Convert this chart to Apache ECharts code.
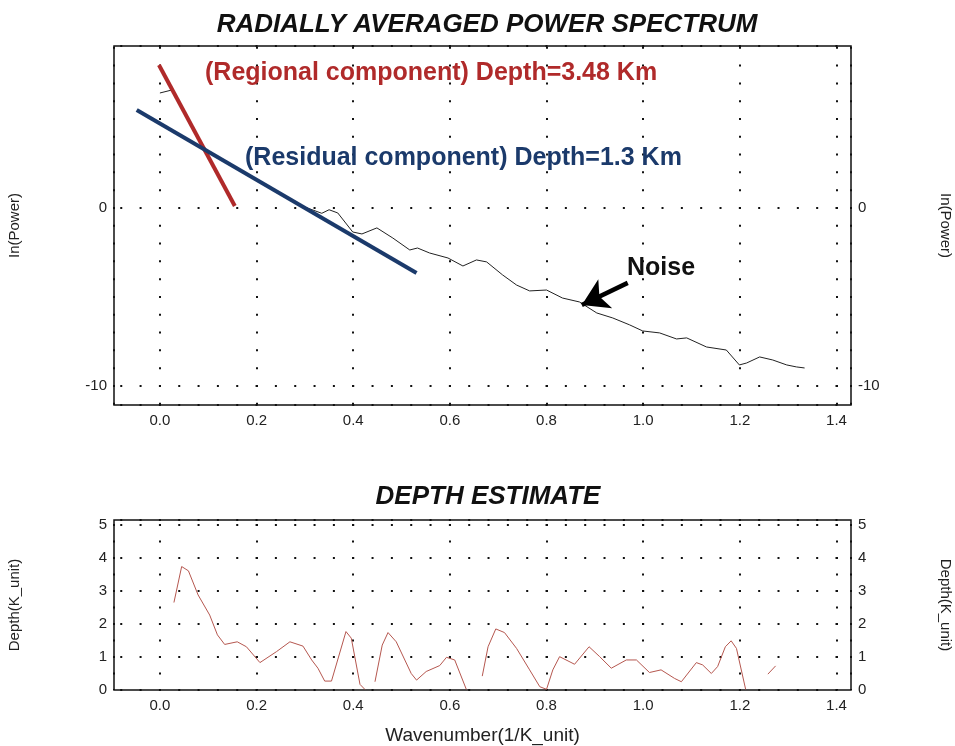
<!DOCTYPE html>
<html><head><meta charset="utf-8">
<script src="https://cdn.jsdelivr.net/npm/echarts@6/dist/echarts.min.js"></script>
<style>html,body{margin:0;padding:0;background:#fff}#c{width:955px;height:746px}</style>
</head><body><div id="c"></div>
<script>
// ---------- data ----------
const xTickValues = [0.0, 0.2, 0.4, 0.6, 0.8, 1.0, 1.2, 1.4];
const powerTickValues = [0, -10];
const depthTickValues = [0, 1, 2, 3, 4, 5];

const noiseX = [0.0, 0.025, 0.04, 0.06, 0.08, 0.10, 0.12, 0.15, 0.18, 0.21, 0.24, 0.27, 0.30,
  0.335, 0.35, 0.368, 0.399, 0.418, 0.449, 0.482, 0.517, 0.533, 0.558, 0.596, 0.627, 0.655, 0.676,
  0.709, 0.738, 0.765, 0.800, 0.833, 0.868, 0.904, 0.937, 0.972, 0.999, 1.034, 1.069, 1.090,
  1.131, 1.172, 1.199, 1.214, 1.241, 1.268, 1.297, 1.317, 1.334];
const noiseY = [6.46, 6.63, 5.85, 4.85, 3.85, 3.15, 2.85, 2.38, 1.9, 1.43, 0.96, 0.5, 0.05,
  -0.3, -0.1, -0.28, -1.35, -1.46, -1.12, -1.69, -2.36, -2.25, -2.53, -2.81, -3.26, -2.92, -3.03,
  -3.76, -4.33, -4.66, -4.61, -5.06, -5.28, -5.90, -6.18, -6.57, -6.91, -7.02, -7.36, -7.30,
  -7.81, -7.98, -8.82, -8.71, -8.37, -8.54, -8.82, -8.93, -8.99];

const regionalX = [-0.002, 0.155];
const regionalY = [8.03, 0.11];
const residualX = [-0.048, 0.531];
const residualY = [5.5, -3.65];

const noiseArrowX = [0.968, 0.873];
const noiseArrowY = [-4.21, -5.45];

const depthX = [0.029, 0.045, 0.059, 0.079, 0.103, 0.119, 0.134, 0.160, 0.179, 0.207, 0.241,
  0.269, 0.296, 0.314, 0.327, 0.341, 0.355, 0.385, 0.396, 0.414, 0.424, 0.434,
  0.445, 0.460, 0.472, 0.489, 0.520, 0.531, 0.551, 0.579, 0.593, 0.610, 0.634, 0.650,
  0.667, 0.679, 0.695, 0.713, 0.738, 0.765, 0.786, 0.800, 0.813, 0.827, 0.858, 0.888,
  0.910, 0.934, 0.965, 0.986, 1.013, 1.037, 1.065, 1.079, 1.110, 1.123, 1.141, 1.154,
  1.170, 1.182, 1.193, 1.212, 1.235, 1.258, 1.274];
const depthY = [2.65, 3.74, 3.61, 2.88, 2.27, 1.67, 1.38, 1.46, 1.31, 0.83, 1.16,
  1.46, 1.33, 0.91, 0.66, 0.27, 0.27, 1.77, 1.57, 0.17, 0.02, null,
  0.25, 1.36, 1.74, 1.46, 0.50, 0.30, 0.56, 0.74, 0.99, 0.91, 0.02, null,
  0.42, 1.31, 1.85, 1.74, 1.26, 0.61, 0.10, 0.02, 0.61, 1.01, 0.78, 1.31,
  1.01, 0.66, 0.91, 0.91, 0.53, 0.61, 0.35, 0.25, 0.83, 0.76, 0.50, 0.71,
  1.31, 1.49, 1.26, 0.02, null, 0.48, 0.73];

// ---------- layout ----------
const X_MIN = -0.095, X_MAX = 1.43;
const P_MIN = -11.07, P_MAX = 9.1;
const D_MIN = 0, D_MAX = 5.15;
const G_LEFT = 114, G_W = 737;
const G1_TOP = 46, G1_H = 359;
const G2_TOP = 520, G2_H = 170;

const FONT = "'Liberation Sans', Arial, sans-serif";
const pxX = G_W / (X_MAX - X_MIN);
const pxP = G1_H / (P_MAX - P_MIN);
const pxD = G2_H / (D_MAX - D_MIN);

function dotStyle(period, firstCenter) {
  const dot = 2;
  const s = firstCenter - dot / 2;
  let off = ((period - s) % period + period) % period;
  return { color: '#111', width: 2, type: [dot, period - dot], dashOffset: off, cap: 'butt' };
}
const hPeriod = 0.04 * pxX;
const hFirst = (Math.ceil(X_MIN / 0.04 - 1e-9) * 0.04 - X_MIN) * pxX;
const v1Period = 1 * pxP;
const v1First = (P_MAX - Math.floor(P_MAX)) * pxP;
const v2Period = 0.5 * pxD;
const v2First = (D_MAX - Math.floor(D_MAX / 0.5) * 0.5) * pxD;

const pair = (xs, ys) => xs.map((x, i) => [x, ys[i] === null ? '-' : ys[i]]);
const near = (v, arr) => arr.some(t => Math.abs(v - t) < 1e-6);

const axisLabelBase = { color: '#222', fontFamily: FONT, fontSize: 15, margin: 7 };
const nameBase = { color: '#222', fontFamily: FONT, fontSize: 15 };

function xAxisDef(gi, name) {
  return {
    type: 'value', gridIndex: gi, min: X_MIN, max: X_MAX,
    minInterval: 0.2, maxInterval: 0.2, splitNumber: 8,
    axisLine: { show: false }, axisTick: { show: false },
    axisLabel: Object.assign({}, axisLabelBase, { margin: 8,
      formatter: v => near(v, xTickValues) ? v.toFixed(1) : '' }),
    splitLine: { show: true, lineStyle: dotStyle(gi === 0 ? v1Period : v2Period, gi === 0 ? v1First : v2First) },
    name: name || '', nameLocation: 'middle', nameGap: 36,
    nameTextStyle: { color: '#222', fontFamily: FONT, fontSize: 19 }
  };
}
function yAxisDef(gi, pos, min, max, interval, ticks, name) {
  return {
    type: 'value', gridIndex: gi, position: pos, min: min, max: max,
    minInterval: interval, maxInterval: interval,
    axisLine: { show: false }, axisTick: { show: false },
    axisLabel: Object.assign({}, axisLabelBase, {
      formatter: v => near(v, ticks) ? String(Math.round(v)) : '' }),
    splitLine: { show: pos === 'left', lineStyle: dotStyle(hPeriod, hFirst) },
    name: name, nameLocation: 'middle', nameGap: pos === 'left' ? 92 : 87,
    nameRotate: pos === 'left' ? 90 : -90,
    nameTextStyle: nameBase
  };
}

const gridBase = { show: true, borderColor: '#111', borderWidth: 1.5, backgroundColor: 'transparent',
  containLabel: false, outerBoundsMode: 'none' };

const chart = echarts.init(document.getElementById('c'), null, { renderer: 'canvas' });
chart.setOption({
  animation: false,
  backgroundColor: '#fff',
  title: [
    { text: 'RADIALLY AVERAGED POWER SPECTRUM', left: 482, top: 7, textAlign: 'center',
      textStyle: { fontFamily: FONT, fontSize: 26, fontWeight: 'bold', fontStyle: 'italic', color: '#111' } },
    { text: 'DEPTH ESTIMATE', left: 483, top: 479, textAlign: 'center',
      textStyle: { fontFamily: FONT, fontSize: 26, fontWeight: 'bold', fontStyle: 'italic', color: '#111' } }
  ],
  grid: [
    Object.assign({ left: G_LEFT, top: G1_TOP, width: G_W, height: G1_H }, gridBase),
    Object.assign({ left: G_LEFT, top: G2_TOP, width: G_W, height: G2_H }, gridBase)
  ],
  xAxis: [ xAxisDef(0), xAxisDef(1, 'Wavenumber(1/K_unit)') ],
  yAxis: [
    yAxisDef(0, 'left', P_MIN, P_MAX, 10, powerTickValues, 'In(Power)'),
    yAxisDef(0, 'right', P_MIN, P_MAX, 10, powerTickValues, 'In(Power)'),
    yAxisDef(1, 'left', D_MIN, D_MAX, 1, depthTickValues, 'Depth(K_unit)'),
    yAxisDef(1, 'right', D_MIN, D_MAX, 1, depthTickValues, 'Depth(K_unit)')
  ],
  series: [
    { type: 'line', xAxisIndex: 0, yAxisIndex: 0, data: pair(noiseX, noiseY), showSymbol: false,
      lineStyle: { color: '#222', width: 1 }, z: 2,
      markLine: { silent: true, symbol: ['none', 'arrow'], symbolSize: [24, 26],
        label: { show: false },
        lineStyle: { color: '#000', width: 4.5, type: 'solid' },
        data: [[ { coord: [noiseArrowX[0], noiseArrowY[0]] }, { coord: [noiseArrowX[1], noiseArrowY[1]] } ]] } },
    { type: 'line', xAxisIndex: 0, yAxisIndex: 0, data: pair(regionalX, regionalY), showSymbol: false,
      lineStyle: { color: '#b02a2a', width: 4 }, z: 3 },
    { type: 'line', xAxisIndex: 0, yAxisIndex: 0, data: pair(residualX, residualY), showSymbol: false,
      lineStyle: { color: '#1b3a6b', width: 4 }, z: 4 },
    { type: 'line', xAxisIndex: 1, yAxisIndex: 2, data: pair(depthX, depthY), showSymbol: false,
      connectNulls: false, lineStyle: { color: '#b5574f', width: 1 }, z: 2 }
  ],
  graphic: [
    { type: 'text', left: 205, top: 61, z: 10, style: { text: '(Regional component) Depth=3.48 Km', fill: '#b02a2a',
      font: 'bold 25px ' + FONT } },
    { type: 'text', left: 245, top: 146, z: 10, style: { text: '(Residual component) Depth=1.3 Km', fill: '#1b3a6b',
      font: 'bold 25px ' + FONT } },
    { type: 'text', left: 627, top: 256, z: 10, style: { text: 'Noise', fill: '#111',
      font: 'bold 25px ' + FONT } }
  ]
});
</script>
</body></html>
